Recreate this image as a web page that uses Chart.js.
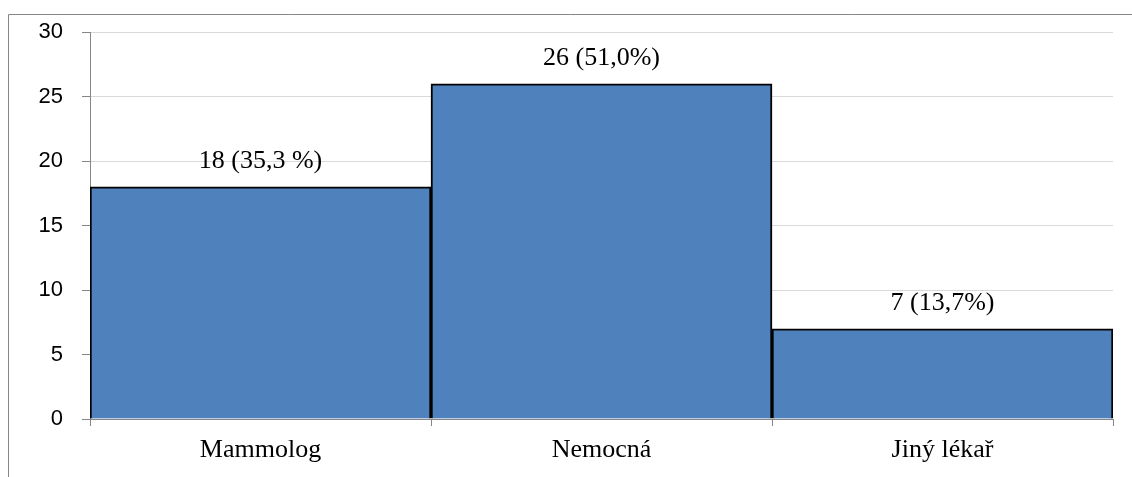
<!DOCTYPE html>
<html>
<head>
<meta charset="utf-8">
<script src="https://cdn.jsdelivr.net/npm/chart.js@4"></script>
<style>
html,body{margin:0;padding:0;background:#fff;}
#wrap{position:relative;width:1132px;height:477px;}
</style>
</head>
<body>
<div id="wrap"><canvas id="c" width="1132" height="477"></canvas></div>
<script>
const categories = ["Mammolog", "Nemocná", "Jiný lékař"];
const counts = [18, 26, 7];
const valueLabels = ["18 (35,3 %)", "26 (51,0%)", "7 (13,7%)"];
const yTicks = [0, 5, 10, 15, 20, 25, 30];

const framePlugin = {
  id: 'frame',
  beforeDraw(chart) {
    const ctx = chart.ctx;
    ctx.save();
    ctx.fillStyle = '#fff';
    ctx.fillRect(0, 0, chart.width, chart.height);
    ctx.strokeStyle = '#878787';
    ctx.lineWidth = 1;
    ctx.beginPath();
    ctx.moveTo(8.5, chart.height);
    ctx.lineTo(8.5, 14.5);
    ctx.lineTo(chart.width, 14.5);
    ctx.stroke();
    ctx.restore();
  }
};

const labelPlugin = {
  id: 'vlabels',
  afterDatasetsDraw(chart) {
    const ctx = chart.ctx;
    const meta = chart.getDatasetMeta(0);
    ctx.save();
    ctx.font = '26px "Liberation Serif", "Times New Roman", serif';
    ctx.fillStyle = '#000';
    ctx.textAlign = 'center';
    ctx.textBaseline = 'middle';
    meta.data.forEach((bar, i) => {
      ctx.fillText(valueLabels[i], bar.x, bar.y - 26);
    });
    ctx.restore();
  }
};

new Chart(document.getElementById('c'), {
  type: 'bar',
  data: {
    labels: categories,
    datasets: [{
      data: counts,
      backgroundColor: '#4F81BD',
      borderColor: '#000000',
      borderWidth: 2,
      borderSkipped: 'bottom',
      barPercentage: 1,
      categoryPercentage: 1
    }]
  },
  options: {
    responsive: false,
    animation: false,
    layout: { padding: { left: 0, top: 32, right: 19, bottom: 0 } },
    plugins: { legend: { display: false }, tooltip: { enabled: false } },
    scales: {
      x: {
        grid: {
          offset: true,
          drawOnChartArea: false,
          drawTicks: true,
          tickLength: 7,
          tickColor: '#868686',
          tickWidth: 1
        },
        border: { color: '#868686', width: 1 },
        ticks: {
          color: '#000',
          font: { family: '"Liberation Serif", "Times New Roman", serif', size: 26 },
          padding: 9
        },
        afterFit(scale) { scale.height = 58; }
      },
      y: {
        min: 0,
        max: 30,
        afterBuildTicks(scale) { scale.ticks = yTicks.map(v => ({ value: v })); },
        grid: {
          color: '#D9D9D9',
          lineWidth: 1,
          drawTicks: true,
          tickLength: 8,
          tickColor: '#868686'
        },
        border: { color: '#868686', width: 1 },
        ticks: {
          color: '#000',
          font: { family: '"Liberation Sans", Arial, sans-serif', size: 22 },
          padding: 19
        },
        afterFit(scale) { scale.width = 90; }
      }
    }
  },
  plugins: [framePlugin, labelPlugin]
});
</script>
</body>
</html>
